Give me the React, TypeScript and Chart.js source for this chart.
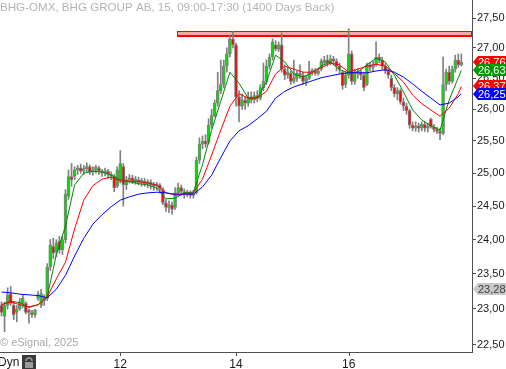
import React, { useEffect, useRef } from "react";
import { Chart, registerables } from "chart.js";

Chart.register(...registerables);

// ---- Candles (15-minute bars) ----
const opens = [
  23.05, 22.90, 23.05, 23.22, 23.05, 22.95, 23.00, 23.08, 23.08, 22.98,
  22.95, 22.92, 23.15, 23.05, 23.12, 23.15, 23.60, 23.90, 23.82, 23.98,
  23.85, 24.00, 24.65, 24.95, 24.95, 25.05, 25.08, 25.03, 25.07, 25.10,
  25.02, 25.05, 25.08, 25.03, 25.00, 25.03, 24.98, 24.95, 24.80, 24.90,
  25.10, 24.82, 24.90, 24.93, 24.88, 24.90, 24.86, 24.88, 24.84, 24.86,
  24.82, 24.80, 24.82, 24.75, 24.55, 24.48, 24.52, 24.48, 24.70, 24.78,
  24.72, 24.68, 24.70, 24.66, 24.70, 25.20, 25.45, 25.50, 25.48, 25.75,
  25.90, 26.10, 26.30, 26.40, 26.70, 26.90, 27.15, 27.05, 26.20, 26.05,
  26.15, 26.10, 26.20, 26.15, 26.22, 26.18, 26.35, 26.45, 26.70, 26.85,
  27.05, 26.98, 27.05, 26.65, 26.55, 26.58, 26.45, 26.50, 26.58, 26.55,
  26.45, 26.50, 26.60, 26.62, 26.58, 26.65, 26.75, 26.80, 26.75, 26.82,
  26.78, 26.70, 26.60, 26.40, 26.55, 26.90, 26.45, 26.58, 26.60, 26.55,
  26.40, 26.72, 26.68, 26.72, 26.85, 26.80, 26.70, 26.62, 26.50, 26.35,
  26.25, 26.30, 26.12, 26.05, 25.98, 25.75, 25.70, 25.74, 25.70, 25.76,
  25.70, 25.84, 25.72, 25.68, 25.65, 25.62, 26.40, 26.60, 26.45, 26.65,
  26.80, 26.72,
];
const highs = [
  23.10, 23.10, 23.30, 23.32, 23.10, 23.05, 23.15, 23.20, 23.10, 23.00,
  22.98, 23.00, 23.25, 23.28, 23.20, 23.65, 24.00, 24.02, 24.00, 24.05,
  24.05, 24.75, 25.05, 25.15, 25.10, 25.12, 25.14, 25.12, 25.16, 25.13,
  25.10, 25.12, 25.11, 25.06, 25.08, 25.06, 25.02, 24.98, 25.10, 25.35,
  25.15, 24.95, 24.98, 24.97, 24.95, 24.94, 24.92, 24.92, 24.90, 24.90,
  24.86, 24.86, 24.84, 24.78, 24.60, 24.58, 24.56, 24.78, 24.85, 24.82,
  24.76, 24.74, 24.73, 24.74, 25.25, 25.55, 25.58, 25.60, 25.85, 26.00,
  26.15, 26.60, 26.80, 26.80, 27.00, 27.20, 27.27, 27.08, 26.30, 26.25,
  26.20, 26.28, 26.28, 26.28, 26.30, 26.40, 26.75, 26.80, 26.90, 27.15,
  27.12, 27.10, 27.25, 26.72, 26.68, 26.62, 26.80, 26.62, 26.72, 26.60,
  26.55, 26.78, 26.66, 26.66, 26.66, 26.82, 26.86, 26.88, 26.88, 26.86,
  26.82, 26.75, 26.62, 26.60, 27.32, 26.95, 26.65, 26.66, 26.64, 26.60,
  26.75, 26.76, 26.78, 27.10, 26.90, 26.85, 26.74, 26.66, 26.55, 26.40,
  26.35, 26.33, 26.18, 26.10, 26.00, 25.80, 25.80, 25.78, 25.80, 25.80,
  25.78, 25.86, 25.76, 25.72, 25.70, 26.85, 26.65, 26.70, 26.70, 26.88,
  26.90, 26.90,
];
const lows = [
  22.90, 22.68, 23.00, 23.05, 22.85, 22.82, 22.98, 23.02, 22.93, 22.80,
  22.88, 22.88, 23.12, 23.02, 23.05, 23.12, 23.55, 23.72, 23.75, 23.80,
  23.78, 23.95, 24.60, 24.80, 24.90, 24.98, 25.00, 24.98, 25.02, 24.98,
  24.97, 25.00, 24.98, 24.95, 24.96, 24.92, 24.90, 24.72, 24.78, 24.85,
  24.50, 24.75, 24.85, 24.84, 24.83, 24.82, 24.80, 24.80, 24.78, 24.76,
  24.74, 24.74, 24.70, 24.52, 24.42, 24.40, 24.38, 24.45, 24.65, 24.66,
  24.62, 24.64, 24.62, 24.62, 24.68, 25.15, 25.38, 25.40, 25.45, 25.70,
  25.88, 26.05, 26.25, 26.35, 26.60, 26.85, 27.00, 26.05, 25.80, 26.00,
  26.00, 26.05, 26.10, 26.10, 26.12, 26.15, 26.30, 26.40, 26.65, 26.80,
  26.95, 26.94, 26.60, 26.48, 26.50, 26.40, 26.42, 26.45, 26.50, 26.40,
  26.38, 26.48, 26.55, 26.55, 26.55, 26.62, 26.72, 26.70, 26.72, 26.72,
  26.62, 26.58, 26.32, 26.35, 26.50, 26.40, 26.40, 26.50, 26.48, 26.30,
  26.38, 26.62, 26.62, 26.70, 26.75, 26.65, 26.58, 26.50, 26.30, 26.20,
  26.15, 26.08, 25.98, 25.92, 25.70, 25.66, 25.65, 25.64, 25.66, 25.65,
  25.64, 25.70, 25.64, 25.62, 25.52, 25.60, 26.30, 26.40, 26.42, 26.60,
  26.68, 26.70,
];
const closes = [
  22.95, 23.05, 23.20, 23.08, 22.92, 23.00, 23.10, 23.15, 22.95, 22.95,
  22.92, 22.98, 23.20, 23.22, 23.16, 23.60, 23.92, 23.80, 23.95, 23.85,
  24.00, 24.68, 24.95, 24.90, 25.05, 25.08, 25.03, 25.07, 25.10, 25.02,
  25.05, 25.09, 25.03, 25.00, 25.04, 24.98, 24.95, 24.78, 25.05, 25.15,
  24.82, 24.90, 24.93, 24.88, 24.90, 24.86, 24.88, 24.84, 24.86, 24.82,
  24.80, 24.82, 24.76, 24.55, 24.48, 24.52, 24.45, 24.70, 24.78, 24.72,
  24.68, 24.70, 24.66, 24.70, 25.20, 25.45, 25.50, 25.45, 25.75, 25.90,
  26.10, 26.30, 26.40, 26.70, 26.90, 27.15, 27.05, 26.20, 26.05, 26.15,
  26.10, 26.20, 26.15, 26.22, 26.18, 26.35, 26.45, 26.70, 26.85, 27.10,
  26.98, 27.05, 26.65, 26.55, 26.60, 26.45, 26.50, 26.58, 26.55, 26.45,
  26.50, 26.60, 26.62, 26.58, 26.62, 26.78, 26.80, 26.75, 26.82, 26.78,
  26.70, 26.65, 26.38, 26.55, 26.90, 26.45, 26.58, 26.60, 26.55, 26.35,
  26.72, 26.68, 26.72, 26.85, 26.80, 26.70, 26.62, 26.55, 26.35, 26.25,
  26.30, 26.12, 26.05, 25.98, 25.75, 25.70, 25.74, 25.70, 25.76, 25.70,
  25.72, 25.72, 25.68, 25.65, 25.62, 26.40, 26.60, 26.45, 26.65, 26.80,
  26.72, 26.76,
];

// ---- Moving averages (sampled at these candle indices) ----
const maIndex = [
  0, 3, 6, 9, 12, 15, 18, 21, 24, 27, 30, 33, 36, 39, 42, 45, 48, 51, 54, 57,
  60, 63, 66, 69, 72, 75, 78, 81, 84, 87, 90, 93, 96, 99, 102, 105, 108, 111,
  114, 117, 120, 123, 126, 129, 132, 135, 138, 141, 144, 147, 150, 151,
];
const maFast = [
  23.06, 23.11, 23.09, 23.02, 23.06, 23.17, 23.78, 24.20, 24.82, 25.00,
  25.03, 25.02, 24.97, 24.90, 24.87, 24.84, 24.82, 24.77, 24.61, 24.62,
  24.70, 24.71, 25.13, 25.67, 26.13, 26.60, 26.42, 26.18, 26.18, 26.44,
  26.88, 26.77, 26.57, 26.52, 26.59, 26.70, 26.77, 26.64, 26.59, 26.60,
  26.72, 26.83, 26.77, 26.55, 26.28, 25.99, 25.83, 25.74, 25.67, 26.15,
  26.51, 26.63,
];
const maMid = [
  23.06, 23.10, 23.06, 23.03, 23.06, 23.17, 23.43, 23.67, 24.16, 24.59,
  24.81, 24.91, 24.94, 24.88, 24.88, 24.87, 24.85, 24.82, 24.70, 24.67,
  24.68, 24.70, 24.91, 25.28, 25.67, 26.05, 26.25, 26.18, 26.18, 26.29,
  26.57, 26.70, 26.65, 26.60, 26.60, 26.67, 26.75, 26.72, 26.60, 26.65,
  26.70, 26.73, 26.70, 26.58, 26.44, 26.23, 26.09, 25.99, 25.89, 26.02,
  26.25, 26.37,
];
const maSlow = [
  23.24, 23.23, 23.21, 23.20, 23.19, 23.16, 23.28, 23.48, 23.76, 24.02,
  24.23, 24.37, 24.49, 24.59, 24.64, 24.68, 24.70, 24.71, 24.70, 24.68,
  24.68, 24.68, 24.79, 24.97, 25.24, 25.50, 25.66, 25.74, 25.85, 25.97,
  26.18, 26.29, 26.36, 26.41, 26.46, 26.51, 26.54, 26.57, 26.59, 26.59,
  26.59, 26.62, 26.64, 26.60, 26.52, 26.41, 26.29, 26.18, 26.07, 26.10,
  26.20, 26.25,
];

// ---- Axes / annotations ----
const dayTickIndex = [39, 77, 114];
const dayTickLabels = ["12", "14", "16"];
const yTickValues = [22.5, 23, 23.5, 24, 24.5, 25, 25.5, 26, 26.5, 27, 27.5];
const resistanceStartIndex = 57.6;
const resistanceTop = 27.28;
const resistanceBottom = 27.21;
const tagValues = [23.28, 26.76, 26.63, 26.37, 26.25];
const tagFills = ["#c8c8c8", "#ff0000", "#009900", "#ff0000", "#0000ff"];
const tagTextColors = ["#404040", "#ffffff", "#ffffff", "#ffffff", "#ffffff"];
const titleText = "BHG-OMX, BHG GROUP AB, 15, 09:00-17:30 (1400 Days Back)";
const copyrightText = "\u00A9 eSignal, 2025";

const FONT = "'Liberation Sans', Arial, sans-serif";
const AXIS = "#505050";
const fmt = (v: number) => v.toFixed(2).replace(".", ",");

const overlayPlugin = {
  id: "overlay",
  beforeDatasetsDraw(chart: any) {
    const { ctx, chartArea, scales } = chart;
    const x0 = scales.x.getPixelForValue(resistanceStartIndex);
    const yT = scales.y.getPixelForValue(resistanceTop);
    const yB = scales.y.getPixelForValue(resistanceBottom);
    ctx.save();
    ctx.fillStyle = "#f6a8a8";
    ctx.fillRect(x0, yT, chartArea.right - x0, yB - yT);
    ctx.strokeStyle = "#ff0000";
    ctx.lineWidth = 1;
    ctx.strokeRect(Math.round(x0) + 0.5, Math.round(yT) + 0.5, chartArea.right - Math.round(x0) - 1, Math.round(yB - yT));
    ctx.beginPath();
    ctx.moveTo(Math.round(x0), Math.round(yB) + 1.5);
    ctx.lineTo(chartArea.right, Math.round(yB) + 1.5);
    ctx.stroke();
    ctx.restore();
  },
  afterDraw(chart: any) {
    const { ctx, chartArea, scales } = chart;
    ctx.save();
    // clear the strip just under the x axis line, then draw the day tick marks
    ctx.fillStyle = "#ffffff";
    ctx.fillRect(chartArea.left, chartArea.bottom + 1, chartArea.right - chartArea.left, 5);
    ctx.strokeStyle = AXIS;
    ctx.lineWidth = 1;
    dayTickIndex.forEach((ix) => {
      const px = Math.round(scales.x.getPixelForValue(ix)) + 0.5;
      ctx.beginPath();
      ctx.moveTo(px, chartArea.bottom);
      ctx.lineTo(px, chartArea.bottom + 4);
      ctx.stroke();
    });
    // title
    ctx.font = `11.6px ${FONT}`;
    ctx.fillStyle = "#b4b4b4";
    ctx.textBaseline = "middle";
    ctx.textAlign = "left";
    ctx.fillText(titleText, 0, 8);
    // copyright
    ctx.font = `11px ${FONT}`;
    ctx.fillStyle = "#a8a8a8";
    ctx.fillText(copyrightText, 0, 343);
    // Dyn + lock
    ctx.font = `12px ${FONT}`;
    ctx.fillStyle = "#1a1a1a";
    ctx.fillText("Dyn", -2, 363);
    ctx.fillStyle = "#3a3a3a";
    ctx.fillRect(22, 355, 14, 14);
    ctx.strokeStyle = "#9a9a9a";
    ctx.lineWidth = 1.5;
    ctx.beginPath();
    ctx.arc(29, 361, 3, Math.PI, 0);
    ctx.stroke();
    ctx.fillStyle = "#9a9a9a";
    ctx.fillRect(25, 362, 8, 6);
    // price tags
    const right = chart.width;
    ctx.font = `11px ${FONT}`;
    tagValues.forEach((v, i) => {
      const yy = Math.round(scales.y.getPixelForValue(v));
      const xl = chartArea.right + 1;
      ctx.fillStyle = tagFills[i];
      ctx.beginPath();
      ctx.moveTo(xl, yy);
      ctx.lineTo(xl + 5, yy - 6);
      ctx.lineTo(right, yy - 6);
      ctx.lineTo(right, yy + 6);
      ctx.lineTo(xl + 5, yy + 6);
      ctx.closePath();
      ctx.fill();
      ctx.fillStyle = tagTextColors[i];
      ctx.textBaseline = "middle";
      ctx.fillText(fmt(v), xl + 5, yy + 1);
    });
    ctx.restore();
  },
};

export default function App() {
  const canvasRef = useRef<HTMLCanvasElement | null>(null);

  useEffect(() => {
    const canvas = canvasRef.current;
    if (!canvas) return;

    const wicks = lows.map((l, i) => ({ x: i, y: [l, highs[i]] }));
    const bodies = opens.map((o, i) => ({ x: i, y: [Math.min(o, closes[i]), Math.max(o, closes[i])] }));
    const bodyColors = opens.map((o, i) => (closes[i] >= o ? "#00e000" : "#ff0000"));
    const line = (vals: number[]) => maIndex.map((ix, k) => ({ x: ix, y: vals[k] }));

    const chart = new Chart(canvas, {
      type: "line",
      data: {
        datasets: [
          {
            type: "line",
            data: line(maSlow),
            borderColor: "#0000ff",
            borderWidth: 1,
            pointRadius: 0,
            tension: 0,
            order: 0,
          } as any,
          {
            type: "line",
            data: line(maMid),
            borderColor: "#ff0000",
            borderWidth: 1,
            pointRadius: 0,
            tension: 0,
            order: 0,
          } as any,
          {
            type: "line",
            data: line(maFast),
            borderColor: "#008800",
            borderWidth: 1,
            pointRadius: 0,
            tension: 0,
            order: 0,
          } as any,
          {
            type: "bar",
            data: bodies,
            backgroundColor: bodyColors,
            borderColor: "#808080",
            borderWidth: 1,
            borderSkipped: false,
            barThickness: 3,
            minBarLength: 2,
            grouped: false,
            order: 1,
          } as any,
          {
            type: "bar",
            data: wicks,
            backgroundColor: "#808080",
            borderWidth: 0,
            barThickness: 1,
            grouped: false,
            order: 2,
          } as any,
        ],
      },
      options: {
        responsive: false,
        maintainAspectRatio: false,
        animation: false,
        devicePixelRatio: 1,
        layout: { padding: 0 },
        plugins: { legend: { display: false }, tooltip: { enabled: false } },
        scales: {
          x: {
            type: "linear",
            min: -0.5,
            max: 154.5,
            offset: false,
            afterBuildTicks: (s: any) => {
              s.ticks = dayTickIndex.map((v) => ({ value: v }));
            },
            afterFit: (s: any) => {
              s.height = 17;
              s.paddingLeft = 0;
              s.paddingRight = 0;
            },
            ticks: {
              autoSkip: false,
              maxRotation: 0,
              padding: 5,
              color: "#1a1a1a",
              font: { family: FONT, size: 12 },
              callback: (v: any) => {
                const k = dayTickIndex.indexOf(Number(v));
                return k >= 0 ? dayTickLabels[k] : "";
              },
            },
            grid: { display: false, drawOnChartArea: false, drawTicks: false },
            border: { display: true, color: AXIS, width: 1 },
          },
          y: {
            type: "logarithmic",
            position: "right",
            min: 22.403,
            max: 27.806,
            afterBuildTicks: (s: any) => {
              s.ticks = yTickValues.map((v) => ({ value: v }));
            },
            afterFit: (s: any) => {
              s.width = 34;
              s.paddingTop = 0;
              s.paddingBottom = 0;
            },
            ticks: {
              autoSkip: false,
              padding: 1,
              color: "#1a1a1a",
              font: { family: FONT, size: 11 },
              callback: (v: any) => fmt(Number(v)),
            },
            grid: { drawOnChartArea: false, drawTicks: true, tickLength: 4, color: AXIS },
            border: { display: true, color: AXIS, width: 1 },
          },
        },
      } as any,
      plugins: [overlayPlugin],
    });

    return () => chart.destroy();
  }, []);

  return (
    <div style={{ position: "fixed", left: 0, top: 0, width: 506, height: 369, background: "#ffffff" }}>
      <canvas ref={canvasRef} width={506} height={369} style={{ display: "block", width: 506, height: 369 }} />
    </div>
  );
}
